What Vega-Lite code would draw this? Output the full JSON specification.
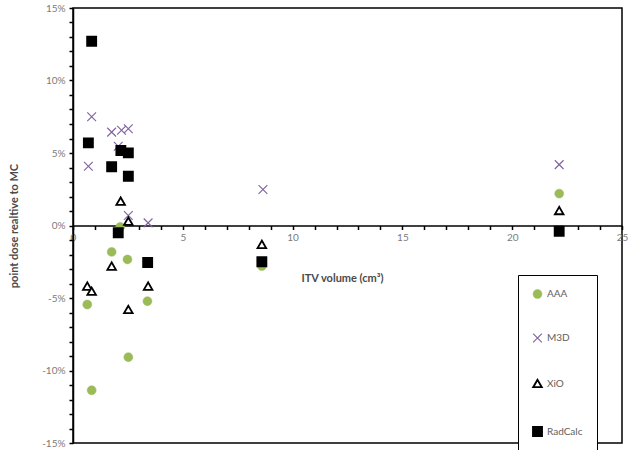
{
  "$schema": "https://vega.github.io/schema/vega-lite/v6.json",
  "width": 549,
  "height": 435,
  "autosize": {"type": "none"},
  "padding": {"left": 73, "top": 8, "right": 9, "bottom": 7},
  "background": "white",
  "config": {
    "view": {"stroke": "#000000", "strokeWidth": 1.5},
    "font": "Lato",
    "axis": {
      "grid": false,
      "domainColor": "#000000",
      "domainWidth": 1.5,
      "tickColor": "#000000",
      "tickWidth": 1.5,
      "tickSize": 4,
      "labelColor": "#7a7a7a",
      "labelFontSize": 10,
      "labelFont": "Lato",
      "titleFont": "Lato",
      "titleFontSize": 11,
      "titleFontWeight": "bold",
      "titleColor": "#4a4a4a",
      "labelOverlap": false,
      "labelFlush": false
    }
  },
  "data": {
    "values": [
      {"system": "AAA", "volume": 0.65, "dose": -5.45},
      {"system": "AAA", "volume": 0.85, "dose": -11.36},
      {"system": "AAA", "volume": 1.76, "dose": -1.82},
      {"system": "AAA", "volume": 2.15, "dose": -0.1},
      {"system": "AAA", "volume": 2.48, "dose": -2.34},
      {"system": "AAA", "volume": 2.52, "dose": -9.08},
      {"system": "AAA", "volume": 3.39, "dose": -5.22},
      {"system": "AAA", "volume": 8.6, "dose": -2.8},
      {"system": "AAA", "volume": 22.14, "dose": 2.2},
      {"system": "M3D", "volume": 0.7, "dose": 4.09},
      {"system": "M3D", "volume": 0.85, "dose": 7.5},
      {"system": "M3D", "volume": 1.76, "dose": 6.44},
      {"system": "M3D", "volume": 2.06, "dose": 5.47},
      {"system": "M3D", "volume": 2.21, "dose": 6.57},
      {"system": "M3D", "volume": 2.52, "dose": 6.67},
      {"system": "M3D", "volume": 2.52, "dose": 0.69},
      {"system": "M3D", "volume": 3.42, "dose": 0.18},
      {"system": "M3D", "volume": 8.65, "dose": 2.48},
      {"system": "M3D", "volume": 22.14, "dose": 4.2},
      {"system": "XiO", "volume": 0.65, "dose": -4.18},
      {"system": "XiO", "volume": 0.85, "dose": -4.53},
      {"system": "XiO", "volume": 1.76, "dose": -2.8},
      {"system": "XiO", "volume": 2.17, "dose": 1.68},
      {"system": "XiO", "volume": 2.52, "dose": 0.3},
      {"system": "XiO", "volume": 2.52, "dose": -5.79},
      {"system": "XiO", "volume": 3.42, "dose": -4.18},
      {"system": "XiO", "volume": 8.6, "dose": -1.3},
      {"system": "XiO", "volume": 22.14, "dose": 1.03},
      {"system": "RadCalc", "volume": 0.7, "dose": 5.7},
      {"system": "RadCalc", "volume": 0.85, "dose": 12.71},
      {"system": "RadCalc", "volume": 1.76, "dose": 4.05},
      {"system": "RadCalc", "volume": 2.06, "dose": -0.5},
      {"system": "RadCalc", "volume": 2.18, "dose": 5.17},
      {"system": "RadCalc", "volume": 2.52, "dose": 5.01},
      {"system": "RadCalc", "volume": 2.52, "dose": 3.4},
      {"system": "RadCalc", "volume": 3.4, "dose": -2.55},
      {"system": "RadCalc", "volume": 8.6, "dose": -2.5},
      {"system": "RadCalc", "volume": 22.14, "dose": -0.4}
    ]
  },
  "mark": {"type": "point", "opacity": 1},
  "encoding": {
    "x": {
      "field": "volume",
      "type": "quantitative",
      "scale": {"domain": [0, 25], "nice": false, "zero": false},
      "axis": {
        "title": "ITV volume (cm³)",
        "offset": -217.5,
        "values": [0,1,2,3,4,5,6,7,8,9,10,11,12,13,14,15,16,17,18,19,20,21,22,23,24,25],
        "labelExpr": "datum.value % 5 === 0 ? datum.label : ''",
        "labelPadding": 3,
        "titlePadding": 30,
        "titleX": 269
      }
    },
    "y": {
      "field": "dose",
      "type": "quantitative",
      "scale": {"domain": [-15, 15], "nice": false, "zero": false},
      "axis": {
        "title": "point dose realtive to MC",
        "values": [-15,-14,-13,-12,-11,-10,-9,-8,-7,-6,-5,-4,-3,-2,-1,0,1,2,3,4,5,6,7,8,9,10,11,12,13,14,15],
        "labelExpr": "datum.value % 5 === 0 ? datum.value + '%' : ''",
        "labelPadding": 4,
        "titlePadding": 22
      }
    },
    "shape": {
      "field": "system",
      "type": "nominal",
      "scale": {"domain": ["AAA", "M3D", "XiO", "RadCalc"], "range": ["circle", "M-1,-1L1,1M-1,1L1,-1", "triangle-up", "square"]},
      "legend": {
        "title": null,
        "orient": "none",
        "legendX": 445,
        "legendY": 267,
        "strokeColor": "#000000",
        "fillColor": "#ffffff",
        "padding": 14,
        "rowPadding": 31,
        "labelFontSize": 10,
        "labelColor": "#606060",
        "labelFont": "Lato",
        "labelOffset": 4,
        "labelExpr": "datum.label + '\u00a0\u00a0\u00a0\u00a0\u00a0\u00a0\u00a0'"
      }
    },
    "fill": {
      "field": "system",
      "type": "nominal",
      "scale": {"domain": ["AAA", "M3D", "XiO", "RadCalc"], "range": ["#9BBB59", "transparent", "#ffffff", "#000000"]},
      "legend": {"title": null}
    },
    "stroke": {
      "field": "system",
      "type": "nominal",
      "scale": {"domain": ["AAA", "M3D", "XiO", "RadCalc"], "range": ["#9BBB59", "#8064A2", "#000000", "#000000"]},
      "legend": {"title": null}
    },
    "size": {
      "field": "system",
      "type": "ordinal",
      "scale": {"domain": ["AAA", "M3D", "XiO", "RadCalc"], "range": [80, 70, 55, 95]},
      "legend": {"title": null}
    },
    "strokeWidth": {
      "field": "system",
      "type": "ordinal",
      "scale": {"domain": ["AAA", "M3D", "XiO", "RadCalc"], "range": [0.5, 2.5, 2, 0.5]},
      "legend": {"title": null}
    }
  }
}
